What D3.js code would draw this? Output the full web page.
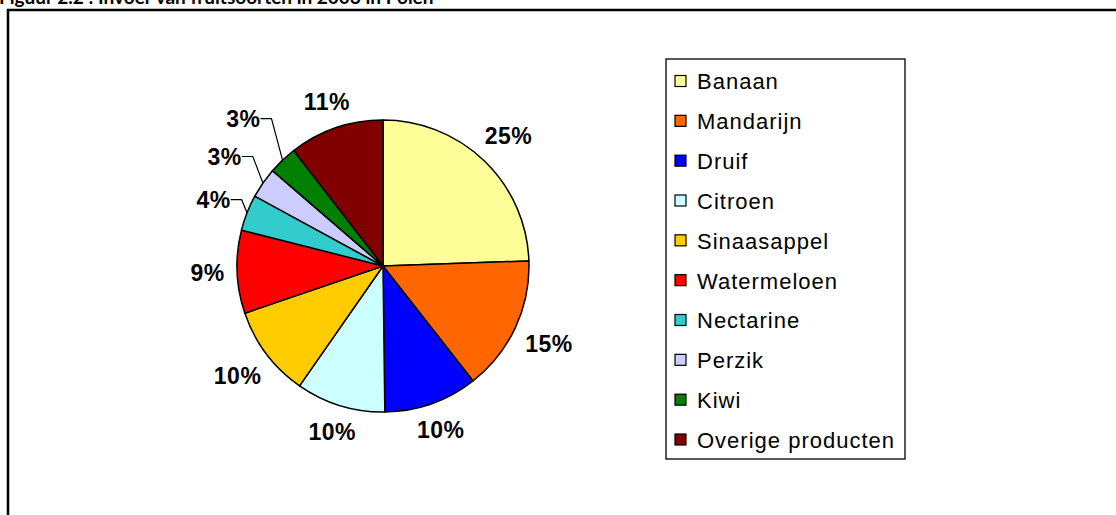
<!DOCTYPE html>
<html>
<head>
<meta charset="utf-8">
<script src="https://cdn.jsdelivr.net/npm/d3@7"></script>
<style>
  body { margin: 0; background: #fff; }
  svg { display: block; }
</style>
</head>
<body>
<svg id="chart"></svg>
<script>
// data
const fruits = ['Banaan', 'Mandarijn', 'Druif', 'Citroen', 'Sinaasappel',
    'Watermeloen', 'Nectarine', 'Perzik', 'Kiwi', 'Overige producten']
const shares = [24.5, 15.0, 10.4, 9.9, 10.1, 9.2, 4.0, 3.4, 3.2, 10.5]
const colors = ['#ffff99', '#ff6600', '#0000ff', '#ccffff', '#ffcc00',
    '#ff0000', '#33cccc', '#ccccff', '#008000', '#800000']
const title = 'Figuur 2.2 : Invoer van fruitsoorten in 2006 in Polen'

const width = 1116
const height = 515
const cx = 383, cy = 266, radius = 146
const labelGap = 12

const svg = d3.select('#chart')
    .attr('width', width)
    .attr('height', height)

// title, mostly cut off by the top edge (as in the source)
svg.append('text')
    .attr('x', -1)
    .attr('y', 4)
    .attr('font-family', 'Lato, sans-serif')
    .attr('font-weight', 'bold')
    .attr('font-size', 19)
    .text(title)

// outer frame (top + left only visible)
svg.append('path')
    .attr('d', `M8,${height} V10 H${width}`)
    .attr('fill', 'none')
    .attr('stroke', '#000')
    .attr('stroke-width', 2.5)

const color = d3.scaleOrdinal(fruits, colors)

const pie = d3.pie()
    .value((d, i) => shares[i])
    .sort(null)

const arcs = pie(fruits)
const arc = d3.arc().innerRadius(0).outerRadius(radius)

const g = svg.append('g').attr('transform', `translate(${cx},${cy})`)

g.selectAll('path.slice')
    .data(arcs)
    .join('path')
    .classed('slice', true)
    .attr('d', arc)
    .attr('fill', d => color(d.data))
    .attr('stroke', '#000')
    .attr('stroke-width', 1.5)
    .attr('stroke-linejoin', 'round')

// percentage labels
const lab = g.selectAll('g.label')
    .data(arcs)
    .join('g')
    .classed('label', true)

const txt = lab.append('text')
    .attr('text-anchor', 'middle')
    .attr('dy', '0.36em')
    .attr('font-family', 'Arial, "Liberation Sans", sans-serif')
    .attr('font-weight', 'bold')
    .attr('font-size', 23)
    .attr('letter-spacing', 0.5)
    .text(d => Math.round(shares[d.index]) + '%')

// place each label box just outside the rim; tiny slices get stacked out with a leader
const small = 5
let smallIdx = 0
txt.each(function (d) {
    const w = this.getComputedTextLength()
    const h = 17
    const mid = (d.startAngle + d.endAngle) / 2
    const ux = Math.sin(mid), uy = -Math.cos(mid)
    let dist
    d.small = shares[d.index] < small
    if (d.small) {
        dist = radius + 36 + smallIdx * 10.5
        smallIdx++
    } else {
        dist = radius + labelGap + Math.abs(ux) * w / 2 + Math.abs(uy) * h / 2
    }
    d.lx = ux * dist
    d.ly = uy * dist
    d.lw = w
    d.mid = mid
    d3.select(this).attr('x', d.lx).attr('y', d.ly)
})

lab.filter(d => d.small)
    .append('path')
    .attr('d', d => {
        const x0 = d.lx + d.lw / 2
        const x1 = x0 + 11
        const ex = Math.sin(d.mid) * radius
        const ey = -Math.cos(d.mid) * radius
        return `M${x0},${d.ly} H${x1} L${ex},${ey}`
    })
    .attr('fill', 'none')
    .attr('stroke', '#000')
    .attr('stroke-width', 1.2)

// legend
const lx = 666, ly = 59, lw = 239, lh = 400
const legend = svg.append('g')
legend.append('rect')
    .attr('x', lx).attr('y', ly)
    .attr('width', lw).attr('height', lh)
    .attr('fill', '#fff')
    .attr('stroke', '#000')
    .attr('stroke-width', 1.3)

const rowY = d3.scalePoint(fruits, [ly + 22.5, ly + lh - 19]).padding(0)

const item = legend.selectAll('g.item')
    .data(fruits)
    .join('g')
    .classed('item', true)
    .attr('transform', d => `translate(${lx + 9},${rowY(d)})`)

item.append('rect')
    .attr('x', 0).attr('y', -6)
    .attr('width', 11).attr('height', 11)
    .attr('fill', d => color(d))
    .attr('stroke', '#000')
    .attr('stroke-width', 1.2)

item.append('text')
    .attr('x', 22)
    .attr('dy', '0.36em')
    .attr('font-family', 'Arial, "Liberation Sans", sans-serif')
    .attr('font-size', 22)
    .attr('letter-spacing', 1)
    .text(d => d)
</script>
</body>
</html>
